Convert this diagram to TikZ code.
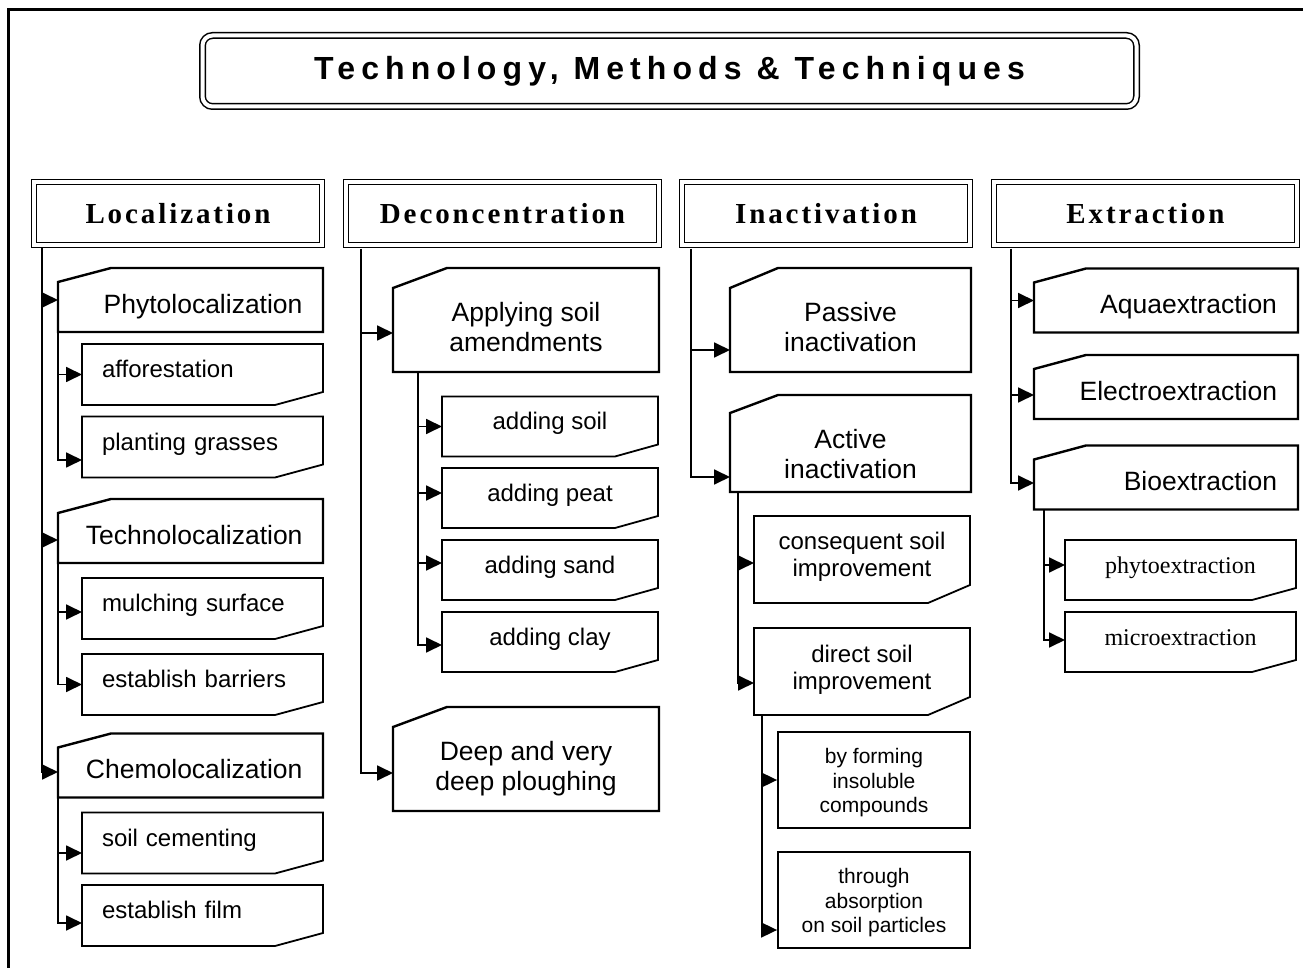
\documentclass[tikz,border=0pt]{standalone}
\usepackage{fontspec}
\setmainfont{Liberation Serif}
\setsansfont{Liberation Sans}
\newfontfamily\titlefont[LetterSpace=19]{Liberation Sans}
\newfontfamily\headfont[LetterSpace=10]{Liberation Serif}
\usetikzlibrary{arrows.meta}
\tikzset{frame/.style={line width=1.5pt},
	titlebox/.style={draw,double,line width=0.75pt,double distance=2pt,rounded corners=5pt,
		minimum width=467pt,minimum height=35.5pt,font=\titlefont\bfseries\fontsize{16}{19}\selectfont},
	headbox/.style={draw,double,line width=0.7pt,double distance=1.6pt,minimum height=31.5pt,
		font=\headfont\bfseries\fontsize{14.5}{17}\selectfont},
	mainbox/.style={rectangle,inner sep=0pt,outer sep=0pt,align=center,
		font=\sffamily\fontsize{13.25}{15}\selectfont},
	subbox/.style={rectangle,inner sep=0pt,outer sep=0pt,align=center,
		font=\sffamily\fontsize{12}{13.5}\selectfont},
	plainbox/.style={rectangle,draw,line width=0.9pt,minimum width=96pt,minimum height=48pt,
		inner sep=0pt,align=center,font=\sffamily\fontsize{10.5}{12.25}\selectfont},
	mainline/.style={line width=1.2pt,line join=miter},
	subline/.style={line width=0.9pt,line join=miter},
	link/.style={line width=0.9pt,-{Triangle[length=8pt,width=7.5pt]}}}
\tikzstyle{locMain}=[mainbox,minimum width=132.5pt,minimum height=32pt,text width=112pt,align=right,
	text height=16pt,text depth=2.8pt]
\tikzstyle{locSub}=[subbox,minimum width=120.5pt,minimum height=30.5pt,text width=100.5pt,align=left,
	text height=8.8pt,text depth=5.5pt]
\tikzstyle{decMain}=[mainbox,minimum width=133pt,minimum height=52pt]
\tikzstyle{decSub}=[subbox,minimum width=108pt,minimum height=30pt,text height=8.8pt,text depth=5.5pt]
\tikzstyle{inaMain}=[mainbox,minimum width=120.5pt]
\tikzstyle{inaSub}=[subbox,minimum width=108pt,minimum height=43.5pt]
\tikzstyle{extMain}=[mainbox,minimum width=132pt,minimum height=32pt,text width=111pt,align=right,
	text height=16pt,text depth=2.8pt]
\tikzstyle{extSub}=[subbox,minimum width=115.5pt,minimum height=30pt,text height=8.5pt,text depth=4.5pt,
	font=\rmfamily\fontsize{12}{13.5}\selectfont]
\begin{document}
\begin{tikzpicture}[x=0.5pt,y=-0.5pt]
	\useasboundingbox (0,0) rectangle (1303,968);
	\draw[frame] (1303,10) -- (8.5,10) -- (8.5,968);
	\node[titlebox] (title) at (669.5,71) {Technology, Methods \& Techniques};
	% column heads
	\node[headbox,minimum width=144pt] (locH) at (178,213.5) {Localization};
	\node[headbox,minimum width=156.5pt] (decH) at (502.5,213.5) {Deconcentration};
	\node[headbox,minimum width=144pt] (inaH) at (826,213.5) {Inactivation};
	\node[headbox,minimum width=151.5pt] (extH) at (1145.5,213.5) {Extraction};
	\coordinate (locT) at (42,248);
	\coordinate (decT) at (361,249);
	\coordinate (inaT) at (691,249);
	\coordinate (extT) at (1011,249);
	% Localization
	\node[locMain] (phyto) at (190.5,300) {Phytolocalization};
	\node[locSub] (affor) at (202.5,374.5) {afforestation};
	\node[locSub] (grass) at (202.5,447) {planting grasses};
	\node[locMain] (techno) at (190.5,531) {Technolocalization};
	\node[locSub] (mulch) at (202.5,608.5) {mulching surface};
	\node[locSub] (barr) at (202.5,684.5) {establish barriers};
	\node[locMain] (chemo) at (190.5,765.5) {Chemolocalization};
	\node[locSub] (cement) at (202.5,843) {soil cementing};
	\node[locSub] (film) at (202.5,915.5) {establish film};
	% Deconcentration
	\node[decMain] (apply) at (526,320) {\rule{0pt}{16.7pt}Applying soil\\amendments};
	\node[decSub] (asoil) at (550,426.5) {adding soil};
	\node[decSub] (apeat) at (550,498) {adding peat};
	\node[decSub] (asand) at (550,570) {adding sand};
	\node[decSub] (aclay) at (550,642) {adding clay};
	\node[decMain] (deep) at (526,759) {\rule{0pt}{19.7pt}Deep and very\\deep ploughing};
	% Inactivation
	\node[inaMain,minimum height=52pt] (passive) at (850.5,320) {\rule{0pt}{16.7pt}Passive\\inactivation};
	\node[inaMain,minimum height=48.5pt] (active) at (850.5,443.5) {\rule{0pt}{19.7pt}Active\\inactivation};
	\node[inaSub] (conseq) at (862,559.5) {consequent soil\\improvement\rule[-5.5pt]{0pt}{0pt}};
	\node[inaSub] (direct) at (862,671.5) {direct soil\\improvement\rule[-4.5pt]{0pt}{0pt}};
	\node[plainbox] (forming) at (874,780) {\rule{0pt}{10.5pt}by forming\\insoluble\\compounds};
	\node[plainbox] (absorb) at (874,900) {\rule{0pt}{10.5pt}through\\absorption\\on soil particles};
	% Extraction
	\node[extMain] (aqua) at (1166,300.5) {Aquaextraction};
	\node[extMain] (elec) at (1166,387) {Electroextraction};
	\node[extMain] (bio) at (1166,477.5) {Bioextraction};
	\node[extSub] (phytoex) at (1180.5,570) {phytoextraction};
	\node[extSub] (microex) at (1180.5,642) {microextraction};
	% box outlines, cut corner top left / bottom right
	\foreach \n/\cx/\cy in {phyto/26.5/7,techno/26.5/7,chemo/26.5/7,apply/27/10,deep/27/10,
			passive/24/10,active/24/9,aqua/26/7,elec/26/7,bio/26/7}
		\draw[mainline] ([yshift=-\cy pt]\n.north west) -- ([xshift=\cx pt]\n.north west)
			-- (\n.north east) -- (\n.south east) -- (\n.south west) -- cycle;
	\foreach \n/\cx/\cy in {affor/24/6.5,grass/24/6.5,mulch/24/6.5,barr/24/6.5,cement/24/6.5,film/24/6.5,
			asoil/21.5/6,apeat/21.5/6,asand/21.5/6,aclay/21.5/6,conseq/21/9,direct/21/9,
			phytoex/22/6,microex/22/6}
		\draw[subline] (\n.north west) -- (\n.north east) -- ([yshift=\cy pt]\n.south east)
			-- ([xshift=-\cx pt]\n.south east) -- (\n.south west) -- cycle;
	% connectors
	\draw[link] (locT) |- (phyto.west);
	\draw[link] (locT) |- ([yshift=-4.5pt]techno.west);
	\draw[link] (locT) |- ([yshift=-3.25pt]chemo.west);
	\draw[link] (phyto.south west) |- (affor.west);
	\draw[link] (phyto.south west) |- ([yshift=-6.5pt]grass.west);
	\draw[link] (techno.south west) |- ([yshift=-1.75pt]mulch.west);
	\draw[link] (techno.south west) |- (barr.west);
	\draw[link] (chemo.south west) |- ([yshift=-5pt]cement.west);
	\draw[link] (chemo.south west) |- ([yshift=-3.75pt]film.west);
	\draw[link] (decT) |- ([yshift=-6.5pt]apply.west);
	\draw[link] (decT) |- ([yshift=-7pt]deep.west);
	\foreach \n/\s in {asoil/0,apeat/2.5,asand/3.5,aclay/-1.5}
		\draw[link] ([xshift=12.5pt]apply.south west) |- ([yshift=\s pt]\n.west);
	\draw[link] (inaT) |- ([yshift=-15pt]passive.west);
	\draw[link] (inaT) |- ([yshift=-16.75pt]active.west);
	\draw[link] ([xshift=4pt]active.south west) |- ([yshift=-1.75pt]conseq.west);
	\draw[link] ([xshift=4pt]active.south west) |- ([yshift=-5.75pt]direct.west);
	\draw[link] ([xshift=4pt]direct.south west) |- (forming.west);
	\draw[link] ([xshift=4pt]direct.south west) |- ([yshift=-15pt]absorb.west);
	\draw[link] (extT) |- (aqua.west);
	\draw[link] (extT) |- ([yshift=-4pt]elec.west);
	\draw[link] (extT) |- ([yshift=-2.75pt]bio.west);
	\draw[link] ([xshift=5pt]bio.south west) |- ([yshift=2.5pt]phytoex.west);
	\draw[link] ([xshift=5pt]bio.south west) |- ([yshift=1pt]microex.west);
\end{tikzpicture}
\end{document}
